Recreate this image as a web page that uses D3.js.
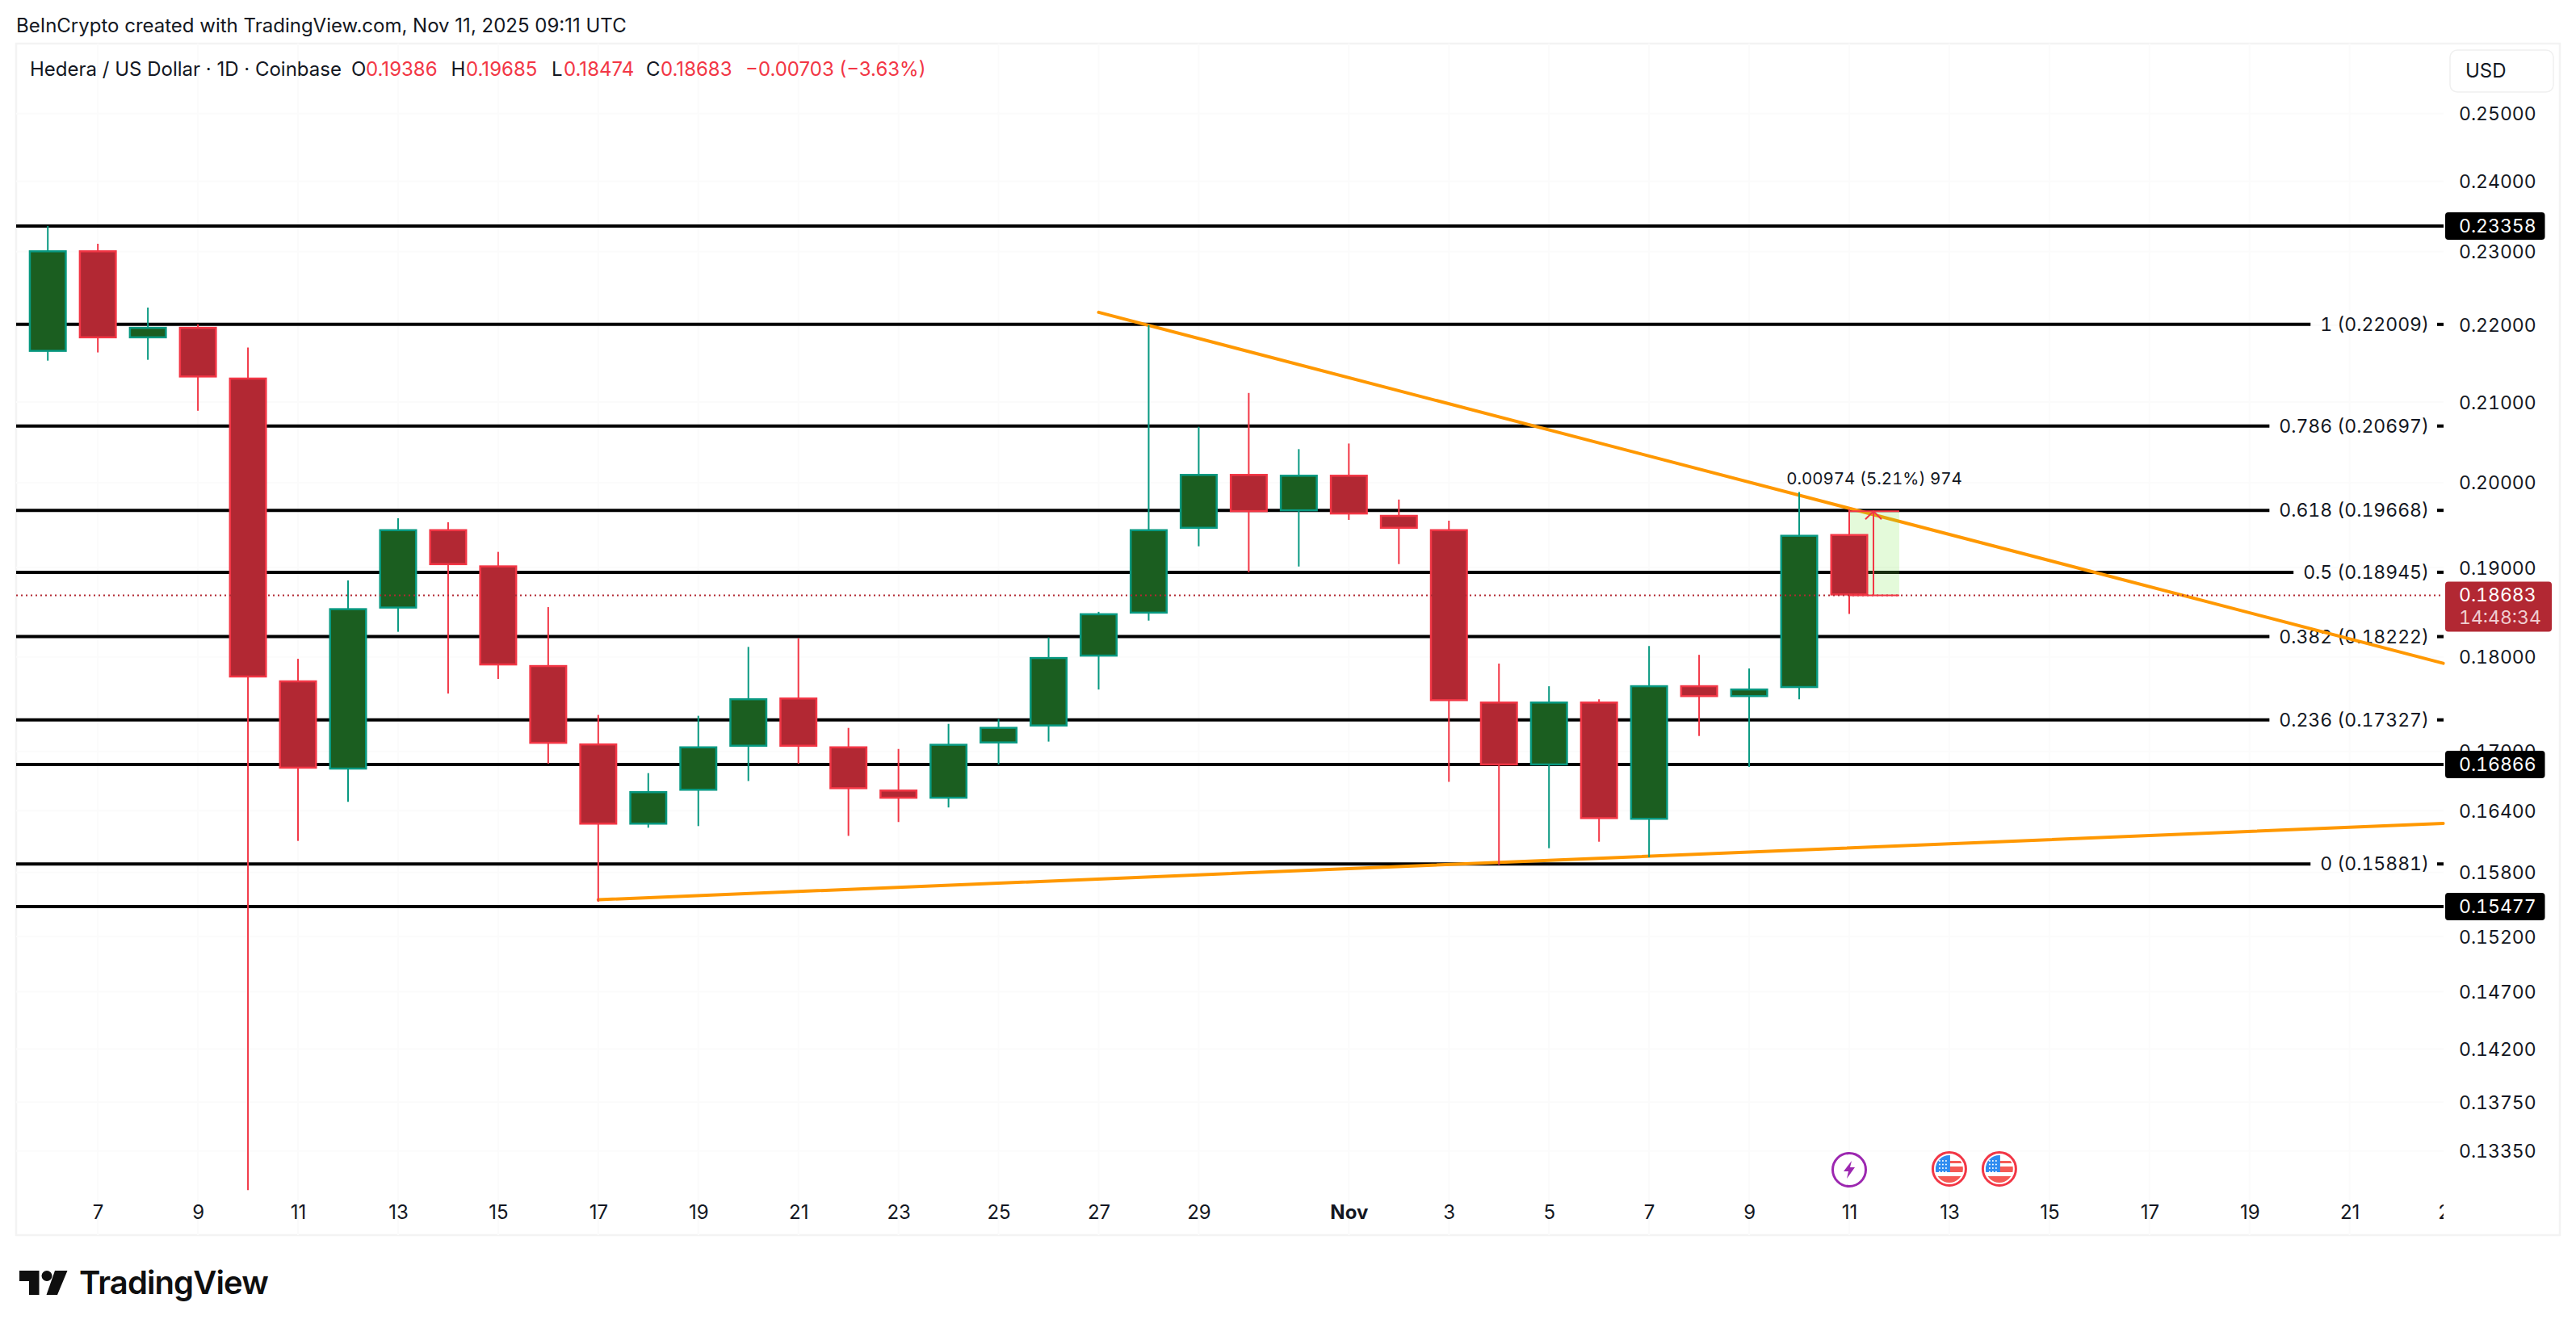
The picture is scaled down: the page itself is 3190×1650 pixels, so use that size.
<!DOCTYPE html>
<html>
<head>
<meta charset="utf-8">
<script src="https://cdn.jsdelivr.net/npm/d3@7"></script>
<style>
  html, body { margin: 0; background: #fff; }
  text { font-family: Inter, "Liberation Sans", sans-serif; fill: #131722; }
  .num, .num text { font-variant-numeric: tabular-nums; }
</style>
</head>
<body>
<svg id="chart" width="3190" height="1650"></svg>
<script>
// candles, Oct 6 to Nov 11
const opens = [0.21649,0.23015,0.21827,0.21974,0.21310,0.17744,0.16816,0.18536,0.19443,0.19022,0.17909,0.17080,0.16265,0.16602,0.17050,0.17561,0.17050,0.16610,0.16522,0.17084,0.17260,0.18005,0.18479,0.19452,0.20104,0.19659,0.20094,0.19612,0.19443,0.17518,0.16858,0.17518,0.16313,0.17692,0.17570,0.17666,0.19386];
const highs = [0.23358,0.23109,0.22234,0.22009,0.21702,0.17979,0.18851,0.19574,0.19527,0.19180,0.18550,0.17379,0.16778,0.17370,0.18109,0.18205,0.17243,0.17025,0.17285,0.17336,0.18213,0.18497,0.21998,0.20687,0.21115,0.20410,0.20479,0.19797,0.19546,0.17927,0.17683,0.17544,0.18118,0.18022,0.17874,0.19886,0.19685];
const lows = [0.21532,0.21639,0.21543,0.20889,0.13038,0.16104,0.16490,0.18275,0.17605,0.17761,0.16874,0.15523,0.16233,0.16249,0.16698,0.16874,0.16153,0.16289,0.16433,0.16866,0.17101,0.17648,0.18399,0.19245,0.18945,0.19011,0.19555,0.19039,0.16690,0.15873,0.16033,0.16096,0.15945,0.17159,0.16842,0.17544,0.18474];
const closes = [0.23015,0.21827,0.21974,0.21316,0.17779,0.16825,0.18536,0.19443,0.19029,0.17909,0.17080,0.16265,0.16594,0.17050,0.17553,0.17050,0.16618,0.16522,0.17076,0.17252,0.17996,0.18479,0.19443,0.20104,0.19649,0.20094,0.19621,0.19452,0.17527,0.16858,0.17518,0.16320,0.17692,0.17570,0.17657,0.19377,0.18683];

// x axis: index 0 is Oct 6
const dayTicks = [1,3,5,7,9,11,13,15,17,19,21,23,26,28,30,32,34,36,38,40,42,44,46,48];
const dayLabels = ["7","9","11","13","15","17","19","21","23","25","27","29","Nov","3","5","7","9","11","13","15","17","19","21","23"];
const priceTicks = [0.25,0.24,0.23,0.22,0.21,0.20,0.19,0.18,0.17,0.164,0.158,0.152,0.147,0.142,0.1375,0.1335];

const fibRatios = ["1","0.786","0.618","0.5","0.382","0.236","0"];
const fibPrices = [0.22009,0.20697,0.19668,0.18945,0.18222,0.17327,0.15881];
const levelPrices = [0.23358,0.16866,0.15477];
const lastPrice = 0.18683;
const countdown = "14:48:34";

// trend lines as [day index, price]
const fallingLine = [[21,0.22170],[47.87,0.17930]];
const risingLine = [[11,0.15541],[47.87,0.16276]];

const measureDays = [36,37];
const measurePrices = [0.18683,0.19657];
const measureLabel = "0.00974 (5.21%) 974";

const legendTitle = "Hedera / US Dollar · 1D · Coinbase";
const legendKeys = ["O","H","L","C"];
const legendValues = ["0.19386","0.19685","0.18474","0.18683"];
const legendChange = "−0.00703 (−3.63%)";
const headline = "BeInCrypto created with TradingView.com, Nov 11, 2025 09:11 UTC";
const flagDays = [38,39];
const boltDay = 36;

const RED = "#f23645", RED_FILL = "#b22833", GREEN = "#089981", GREEN_FILL = "#1b5e20", ORANGE = "#ff9800";
const plot = { left: 20, right: 3026, top: 54, bottom: 1530, edge: 3170 };

const svg = d3.select("#chart");
const x = d3.scaleLinear().domain([0, 36]).range([59.2, 2290]);
const y = d3.scaleLog().domain([0.23358, 0.15477]).range([280, 1123]);

svg.append("rect").attr("x", plot.left).attr("y", plot.top)
  .attr("width", plot.edge - plot.left).attr("height", plot.bottom - plot.top)
  .attr("fill", "#fff").attr("stroke", "#f3f3f3").attr("stroke-width", 2.5);

const defs = svg.append("defs");
defs.append("clipPath").attr("id", "plotClip").append("rect")
  .attr("x", plot.left).attr("y", plot.top)
  .attr("width", plot.right - plot.left).attr("height", plot.bottom - plot.top);
defs.append("clipPath").attr("id", "axisClip").append("rect")
  .attr("x", plot.left).attr("y", plot.bottom - 60)
  .attr("width", plot.right - plot.left).attr("height", 60);

// faint grid
const grid = svg.append("g").attr("clip-path", "url(#plotClip)").attr("stroke", "#fbfbfb").attr("stroke-width", 2);
dayTicks.forEach(d => grid.append("line").attr("x1", x(d)).attr("x2", x(d)).attr("y1", plot.top).attr("y2", plot.bottom));
priceTicks.forEach(p => grid.append("line").attr("x1", plot.left).attr("x2", plot.right).attr("y1", y(p)).attr("y2", y(p)));

// axes
const yAxis = svg.append("g").attr("class", "num").attr("transform", `translate(3045,0)`)
  .call(d3.axisRight(y).tickValues(priceTicks).tickSize(0).tickPadding(0).tickFormat(d3.format(".5f")));
yAxis.select(".domain").remove();
yAxis.selectAll("text").attr("font-size", 23).style("font-family", "Inter").attr("dy", "0.35em");

const xAxis = svg.append("g").attr("clip-path", "url(#axisClip)").append("g")
  .attr("transform", `translate(0,1493)`)
  .call(d3.axisBottom(x).tickValues(dayTicks).tickSize(0).tickPadding(0).tickFormat((d, i) => dayLabels[i]));
xAxis.select(".domain").remove();
xAxis.selectAll("text").attr("font-size", 24).style("font-family", "Inter")
  .attr("font-weight", (d, i) => dayLabels[i] === "Nov" ? 700 : 400);

// fib levels, line stops short of its label
const fibs = svg.append("g");
fibPrices.forEach((p, i) => {
  const label = fibs.append("text").attr("class", "num").attr("x", 3008).attr("y", y(p)).attr("dy", "0.35em")
    .attr("text-anchor", "end").attr("font-size", 23)
    .text(`${fibRatios[i]} (${p.toFixed(5)})`);
  const stop = 3008 - label.node().getComputedTextLength() - 12;
  fibs.append("line").attr("x1", plot.left).attr("x2", stop).attr("y1", y(p)).attr("y2", y(p))
    .attr("stroke", "#000").attr("stroke-width", 4);
  fibs.append("line").attr("x1", 3018).attr("x2", plot.right).attr("y1", y(p)).attr("y2", y(p))
    .attr("stroke", "#000").attr("stroke-width", 4);
});
levelPrices.forEach(p => {
  fibs.append("line").attr("x1", plot.left).attr("x2", plot.right).attr("y1", y(p)).attr("y2", y(p))
    .attr("stroke", "#000").attr("stroke-width", 4);
});

// trend lines
const trend = d3.line().x(d => x(d[0])).y(d => y(d[1]));
svg.selectAll(".trend").data([fallingLine, risingLine]).join("path")
  .attr("class", "trend").attr("d", trend).attr("fill", "none")
  .attr("stroke", ORANGE).attr("stroke-width", 4).attr("stroke-linecap", "round");

// measure box sits under the candles
svg.append("rect").attr("x", x(measureDays[0])).attr("width", x(measureDays[1]) - x(measureDays[0]))
  .attr("y", y(measurePrices[1])).attr("height", y(measurePrices[0]) - y(measurePrices[1]))
  .attr("fill", "rgba(120,230,70,0.2)");

// candles
const barWidth = 44.5;
const candles = svg.append("g").attr("clip-path", "url(#plotClip)").selectAll("g")
  .data(opens.map((o, i) => ({ i, o, h: highs[i], l: lows[i], c: closes[i] })))
  .join("g");
candles.append("line")
  .attr("x1", d => x(d.i)).attr("x2", d => x(d.i))
  .attr("y1", d => y(d.h)).attr("y2", d => y(d.l))
  .attr("stroke", d => d.c >= d.o ? GREEN : RED).attr("stroke-width", 2);
candles.append("rect")
  .attr("x", d => x(d.i) - barWidth / 2).attr("width", barWidth)
  .attr("y", d => y(Math.max(d.o, d.c)) + 1)
  .attr("height", d => Math.abs(y(d.o) - y(d.c)) - 2)
  .attr("fill", d => d.c >= d.o ? GREEN_FILL : RED_FILL)
  .attr("stroke", d => d.c >= d.o ? GREEN : RED).attr("stroke-width", 2.5);

// last price
svg.append("line").attr("x1", plot.left).attr("x2", plot.right)
  .attr("y1", y(lastPrice)).attr("y2", y(lastPrice))
  .attr("stroke", RED_FILL).attr("stroke-width", 2).attr("stroke-dasharray", "2 4");

// measure lines and arrow
const mx = (x(measureDays[0]) + x(measureDays[1])) / 2 - 1;
const measure = svg.append("g").attr("stroke", RED).attr("stroke-width", 2).attr("fill", "none");
measurePrices.forEach(p => measure.append("line")
  .attr("x1", x(measureDays[0])).attr("x2", x(measureDays[1])).attr("y1", y(p)).attr("y2", y(p)));
measure.append("line").attr("x1", mx).attr("x2", mx).attr("y1", y(measurePrices[0])).attr("y2", y(measurePrices[1]));
measure.append("path").attr("d", `M${mx - 10},${y(measurePrices[1]) + 10}L${mx},${y(measurePrices[1])}L${mx + 10},${y(measurePrices[1]) + 10}`);
svg.append("text").attr("class", "num").attr("x", mx + 1).attr("y", 592.5).attr("dy", "0.35em").attr("text-anchor", "middle")
  .attr("font-size", 20.5).text(measureLabel);

// price tags
const tag = (price, width, height, fill) => svg.append("rect").attr("x", 3028).attr("y", y(price) - 17)
  .attr("width", width).attr("height", height).attr("rx", 4).attr("fill", fill);
levelPrices.forEach(p => {
  tag(p, 123.5, 34, "#000");
  svg.append("text").attr("class", "num").attr("x", 3045).attr("y", y(p)).attr("dy", "0.35em").attr("font-size", 23)
    .style("fill", "#fff").text(p.toFixed(5));
});
tag(lastPrice, 132, 62, RED_FILL);
svg.append("text").attr("class", "num").attr("x", 3045).attr("y", y(lastPrice)).attr("dy", "0.35em").attr("font-size", 23)
  .style("fill", "#fff").text(lastPrice.toFixed(5));
svg.append("text").attr("class", "num").attr("x", 3045).attr("y", y(lastPrice) + 27.5).attr("dy", "0.35em").attr("font-size", 23)
  .style("fill", "#f0cdd0").text(countdown);

// header and legend
svg.append("text").attr("x", 20).attr("y", 32).attr("dy", "0.35em").attr("font-size", 24).text(headline);
const legend = svg.append("text").attr("y", 86).attr("dy", "0.35em").attr("font-size", 24);
legend.append("tspan").attr("x", 37).text(legendTitle);
const keyX = [435, 558.5, 683, 800], valueX = [453, 577, 698, 818];
legendKeys.forEach((k, i) => {
  legend.append("tspan").attr("x", keyX[i]).text(k);
  legend.append("tspan").attr("x", valueX[i]).style("fill", RED).text(legendValues[i]);
});
legend.append("tspan").attr("x", 923).style("fill", RED).text(legendChange);

// currency button
svg.append("rect").attr("x", 3034).attr("y", 62).attr("width", 128).attr("height", 52).attr("rx", 9)
  .attr("fill", "#fff").attr("stroke", "#f0f0f0").attr("stroke-width", 1.5);
svg.append("text").attr("x", 3053).attr("y", 88).attr("dy", "0.35em").attr("font-size", 24).text("USD");

// event markers
const bolt = svg.append("g").attr("transform", `translate(${x(boltDay)},1449)`);
bolt.append("circle").attr("r", 20.5).attr("fill", "#fff").attr("stroke", "#9c27b0").attr("stroke-width", 3);
bolt.append("path").attr("d", "M3,-11L-7,2L-1,2L-3,11L7,-3L1,-3Z").attr("fill", "#9c27b0");

flagDays.forEach((d, n) => {
  const flag = svg.append("g").attr("transform", `translate(${x(d)},1448)`);
  const id = `flagClip${n}`;
  defs.append("clipPath").attr("id", id).append("circle").attr("r", 17);
  flag.append("circle").attr("r", 20.5).attr("fill", "#fff").attr("stroke", RED).attr("stroke-width", 3);
  const inner = flag.append("g").attr("clip-path", `url(#${id})`);
  inner.append("rect").attr("x", -17).attr("y", -17).attr("width", 34).attr("height", 34).attr("fill", "#fff");
  inner.append("rect").attr("x", -17).attr("y", -3).attr("width", 34).attr("height", 7).attr("fill", "#f55a55");
  inner.append("rect").attr("x", -17).attr("y", 9).attr("width", 34).attr("height", 8).attr("fill", "#f55a55");
  inner.append("rect").attr("x", -17).attr("y", -10).attr("width", 34).attr("height", 3).attr("fill", "#f55a55");
  inner.append("rect").attr("x", -17).attr("y", -17).attr("width", 18).attr("height", 21).attr("fill", "#2f8cf0");
  d3.range(-12, 0, 4).forEach(cx => d3.range(-10, 4, 4.5).forEach(cy =>
    inner.append("circle").attr("cx", cx).attr("cy", cy).attr("r", 1).attr("fill", "#fff")));
});

// logo
const logo = svg.append("g").attr("fill", "#0f0f0f");
logo.append("path").attr("d", "M24,1574H48.5V1604H36V1587H24Z");
logo.append("circle").attr("cx", 58).attr("cy", 1580.5).attr("r", 6.5);
logo.append("path").attr("d", "M68,1574H83.5L71,1604H57.5Z");
svg.append("text").attr("x", 98).attr("y", 1603).attr("font-size", 40).attr("font-weight", 600)
  .attr("letter-spacing", -0.9).style("fill", "#0f0f0f").text("TradingView");
</script>
</body>
</html>
